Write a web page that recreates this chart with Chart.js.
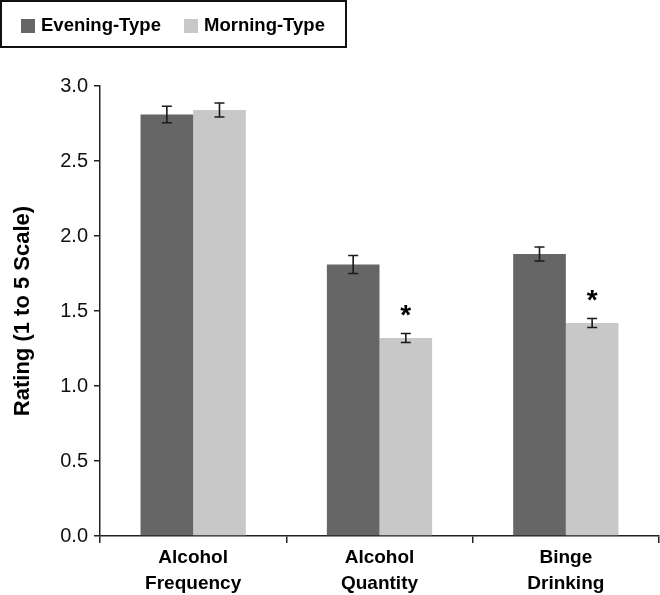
<!DOCTYPE html>
<html><head><meta charset="utf-8">
<script src="https://cdn.jsdelivr.net/npm/chart.js@4"></script>
<style>html,body{margin:0;padding:0;background:#fff}#wrap{position:relative;width:660px;height:595px}</style>
</head><body><div id="wrap"><canvas id="c" width="660" height="595"></canvas></div>
<script>
const categories = [["Alcohol","Frequency"],["Alcohol","Quantity"],["Binge","Drinking"]];
const seriesNames = ["Evening-Type","Morning-Type"];
const eveningValues = [2.81, 1.81, 1.88];
const morningValues = [2.84, 1.32, 1.42];
const eveningErrors = [0.055, 0.06, 0.047];
const morningErrors = [0.047, 0.03, 0.03];
const morningSignificant = [false, true, true];
const yTicks = [0, 0.5, 1, 1.5, 2, 2.5, 3];

const DARK = '#666666', LIGHT = '#c8c8c8', INK = '#1a1a1a';
const FONT = '"Liberation Sans", Arial, sans-serif';
const errors = [eveningErrors, morningErrors];
const stars = [[false,false,false], morningSignificant];

const errPlugin = {
  id: 'errbars',
  afterDatasetsDraw(chart) {
    const ctx = chart.ctx, y = chart.scales.y;
    ctx.save();
    chart.data.datasets.forEach((ds, i) => {
      const meta = chart.getDatasetMeta(i);
      meta.data.forEach((el, j) => {
        const v = ds.data[j], e = errors[i][j];
        const yt = y.getPixelForValue(v + e), yb = y.getPixelForValue(v - e);
        const x = el.x;
        ctx.strokeStyle = INK; ctx.lineWidth = 1.6;
        ctx.beginPath();
        ctx.moveTo(x, yt); ctx.lineTo(x, yb);
        ctx.moveTo(x - 5, yt); ctx.lineTo(x + 5, yt);
        ctx.moveTo(x - 5, yb); ctx.lineTo(x + 5, yb);
        ctx.stroke();
        if (stars[i][j]) {
          ctx.fillStyle = '#000';
          ctx.font = 'bold 28px ' + FONT;
          ctx.textAlign = 'center'; ctx.textBaseline = 'alphabetic';
          ctx.fillText('*', x, yt - 10);
        }
      });
    });
    ctx.restore();
  }
};

const legendPlugin = {
  id: 'boxlegend',
  afterDraw(chart) {
    const ctx = chart.ctx;
    ctx.save();
    ctx.strokeStyle = '#111'; ctx.lineWidth = 2;
    ctx.strokeRect(1, 1, 345, 46);
    const items = [[21, DARK, seriesNames[0], 41], [184, LIGHT, seriesNames[1], 204]];
    ctx.font = 'bold 18.5px ' + FONT;
    ctx.textBaseline = 'middle'; ctx.textAlign = 'left';
    items.forEach(([sx, col, txt, tx]) => {
      ctx.fillStyle = col; ctx.fillRect(sx, 19, 14, 14);
      ctx.fillStyle = '#000'; ctx.fillText(txt, tx, 26);
    });
    ctx.restore();
  }
};

new Chart(document.getElementById('c'), {
  type: 'bar',
  data: {
    labels: categories,
    datasets: [
      { label: seriesNames[0], data: eveningValues, backgroundColor: DARK, categoryPercentage: 0.565, barPercentage: 1.0 },
      { label: seriesNames[1], data: morningValues, backgroundColor: LIGHT, categoryPercentage: 0.565, barPercentage: 1.0 }
    ]
  },
  options: {
    responsive: false, devicePixelRatio: 1, animation: false,
    layout: { padding: { top: 86, right: 1, left: 0, bottom: 0 } },
    plugins: { legend: { display: false }, tooltip: { enabled: false } },
    scales: {
      y: {
        min: 0, max: 3,
        afterBuildTicks(s) { s.ticks = yTicks.map(v => ({ value: v })); },
        afterFit(s) { s.width = 100; },
        ticks: { callback: v => Number(v).toFixed(1), color: '#111', font: { family: FONT, size: 20 }, padding: 6 },
        grid: { drawOnChartArea: false, drawTicks: true, tickLength: 6, color: '#222', lineWidth: 1.5 },
        border: { display: true, color: '#222', width: 1.5 },
        title: { display: true, text: 'Rating (1 to 5 Scale)', color: '#000', font: { family: FONT, size: 22, weight: 'bold' }, padding: { top: 10, bottom: 0 } }
      },
      x: {
        offset: true,
        afterFit(s) { s.height = 59; },
        ticks: { color: '#000', font: { family: FONT, size: 19, weight: 'bold', lineHeight: '26px' }, padding: 2, maxRotation: 0 },
        grid: { offset: true, drawOnChartArea: false, drawTicks: true, tickLength: 7, color: '#222', lineWidth: 1.5 },
        border: { display: true, color: '#222', width: 1.5 }
      }
    }
  },
  plugins: [errPlugin, legendPlugin]
});
</script>
</body></html>
